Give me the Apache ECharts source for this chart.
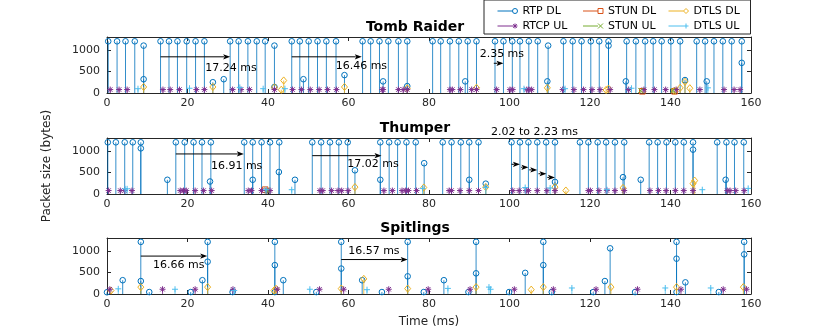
<!DOCTYPE html>
<html>
<head>
<meta charset="utf-8">
<script src="https://cdn.jsdelivr.net/npm/echarts@6/dist/echarts.min.js"></script>
<style>
  html, body { margin: 0; background: #fff; }
  #chart { width: 830px; height: 335px; }
</style>
</head>
<body>
<div id="chart"></div>
<script>
// 各类报文名称、颜色与标记
var seriesNames = ['RTP DL', 'STUN DL', 'DTLS DL', 'RTCP UL', 'STUN UL', 'DTLS UL'];
var seriesColors = ['#0072BD', '#D95319', '#EDB120', '#7E2F8E', '#77AC30', '#4DBEEE'];
var seriesMarks = ['o', 's', 'd', '*', 'x', '+'];

var xMin = 0, xMax = 160, xStep = 20;
var yMin = 0, yMax = 1300, yStep = 500;

// Tomb Raider  [时间(ms), 包大小(bytes)]
var tombRtpDl = [[0.3,1200],[2.5,1200],[4.6,1200],[6.9,1200],[9.1,1100],[9.1,320],
  [13.3,1200],[15.4,1200],[17.5,1200],[19.8,1200],[22.0,1200],[24.2,1200],[26.3,250],[29.0,320],
  [30.6,1200],[32.7,1200],[35.0,1200],[37.2,1200],[39.3,1200],[41.6,1100],[41.6,140],
  [45.9,1200],[47.9,1200],[48.8,320],[50.1,1200],[52.3,1200],[54.5,1200],[56.9,1200],[59.0,415],
  [63.5,1200],[65.5,1200],[67.7,1200],[68.6,270],[69.9,1200],[72.4,1200],[74.6,1200],[74.6,160],
  [80.9,1200],[82.9,1200],[85.2,1200],[87.4,1200],[89.0,270],[89.6,1200],[91.8,1200],
  [96.4,1200],[98.5,1200],[100.7,1200],[102.6,1200],[104.8,1200],[107.0,1200],[109.6,1100],[109.4,270],
  [113.4,1200],[115.7,1200],[117.9,1200],[120.2,1200],[122.3,1200],[124.6,1200],[124.6,1100],
  [128.9,270],[129.1,1200],[131.4,1200],[133.7,1200],[135.7,1200],[137.8,1200],[140.1,1200],[142.4,1200],[143.6,300],
  [146.5,1200],[148.6,1200],[149.0,270],[150.8,1200],[153.0,1200],[155.2,1200],[157.7,1200],[157.7,700]];
var tombStunDl = [[133.0,40],[141.0,40]];
var tombDtlsDl = [[9.1,140],[26.3,140],[41.6,130],[43.3,75],[43.9,290],[59.0,140],[74.6,110],[91.8,120],
  [109.4,120],[124.0,70],[124.6,100],[141.0,50],[142.4,120],[143.6,260],[144.8,110]];
var tombRtcpUl = [[0.8,80],[3.0,80],[5.0,80],[13.9,80],[15.7,80],[18.0,80],[22.2,80],[24.2,80],[31.2,80],
  [33.3,80],[35.4,80],[41.6,80],[46.1,80],[48.3,80],[50.5,80],[52.7,80],[54.8,80],[57.0,80],[68.4,80],
  [68.6,80],[72.4,80],[73.6,80],[74.6,80],[85.2,80],[85.8,80],[87.8,80],[90.6,80],[91.8,80],[96.8,80],
  [100.1,80],[100.8,80],[104.3,80],[104.8,80],[105.5,80],[113.2,80],[116.0,80],[118.4,80],[120.5,80],
  [122.5,80],[125.0,80],[129.6,80],[133.4,80],[136.0,80],[138.8,80],[141.4,80],[147.3,80],[153.3,80],
  [155.8,80],[157.3,80]];
var tombStunUl = [[132.6,60],[140.6,60]];
var tombDtlsUl = [[7.7,100],[20.5,110],[33.0,130],[38.8,100],[44.2,100],[103.6,100],[113.8,100],
  [130.3,110],[149.3,120]];
var tombArrows = [[13.3,30.6,840],[45.9,63.3,840],[96.1,98.5,690]];
var tombNotes = [[30.8,580,'17.24 ms'],[63.2,615,'16.46 ms'],[98.1,910,'2.35 ms']];

// Thumper
var thumpRtpDl = [[0.2,1200],[2.2,1200],[4.4,1200],[6.4,1200],[8.4,1200],[8.4,1060],
  [15.0,330],[17.1,1200],[19.3,1200],[21.5,1200],[23.6,1200],[25.8,1200],[25.6,290],
  [34.1,1200],[36.2,1200],[36.2,330],[38.4,1200],[40.5,1200],[42.8,1200],[42.7,510],[46.7,330],
  [51.0,1200],[53.2,1200],[55.4,1200],[57.6,1200],[59.8,1200],[61.6,550],
  [67.9,1200],[67.9,330],[70.1,1200],[72.2,1200],[74.4,1200],[76.7,1200],[78.8,715],
  [83.4,1200],[85.6,1200],[87.9,1200],[90.0,1200],[90.0,330],[92.3,1200],[94.1,240],
  [100.5,1200],[102.6,1200],[104.7,1200],[106.9,1200],[109.1,1200],[111.3,1200],[111.3,280],
  [117.5,1200],[119.6,1200],[121.9,1200],[124.0,1200],[126.2,1200],[128.5,1200],[128.2,390],[132.6,330],
  [134.7,1200],[136.8,1200],[139.0,1200],[141.2,1200],[143.3,1200],[145.6,1200],[145.6,1030],
  [151.6,1200],[153.9,1200],[153.7,330],[155.9,1200],[158.2,1200]];
var thumpStunDl = [[39.3,100]];
var thumpDtlsDl = [[61.6,160],[78.7,150],[94.1,160],[111.3,160],[114.0,80],[128.2,140],[145.6,240],[146.0,310]];
var thumpRtcpUl = [[0.4,80],[3.3,80],[4.4,80],[6.2,80],[18.2,80],[19.0,80],[19.7,80],[21.9,80],[24.0,80],
  [26.0,80],[35.1,80],[35.9,80],[38.4,80],[39.7,80],[40.5,80],[52.9,80],[53.6,80],[55.8,80],[57.4,80],
  [58.3,80],[59.9,80],[68.8,80],[70.9,80],[73.3,80],[74.2,80],[74.9,80],[76.9,80],[85.0,80],[85.6,80],
  [87.7,80],[90.0,80],[92.3,80],[100.8,80],[102.4,80],[104.1,80],[104.7,80],[106.9,80],[109.3,80],
  [111.3,80],[119.6,80],[120.1,80],[122.2,80],[124.2,80],[126.2,80],[128.5,80],[134.9,80],[137.0,80],
  [138.9,80],[141.2,80],[143.3,80],[145.6,80],[154.1,80],[154.8,80],[156.2,80],[158.3,80]];
var thumpStunUl = [[39.8,90]];
var thumpDtlsUl = [[4.5,120],[5.0,120],[39.5,100],[45.9,100],[78.4,130],[94.1,150],[103.9,150],
  [110.1,140],[124.2,100],[147.9,100],[159.3,130]];
var thumpArrows = [[17.1,34.0,930],[51.0,68.2,890],[100.5,102.6,690],[102.9,104.7,620],
  [104.9,106.9,560],[107.2,109.2,470],[109.4,111.3,385]];
var thumpNotes = [[32.2,650,'16.91 ms'],[66.1,700,'17.02 ms'],[106.2,1430,'2.02 to 2.23 ms']];

// Spitlings
var spitRtpDl = [[0.0,40],[3.9,320],[8.4,1210],[8.4,300],[10.5,45],[20.8,45],[23.7,320],[25.0,1210],
  [25.0,750],[31.2,45],[41.7,1210],[41.7,670],[41.7,45],[43.8,320],[52.0,45],[58.2,1210],[58.2,590],
  [63.4,320],[68.3,45],[74.7,1210],[74.7,410],[78.7,45],[83.7,320],[89.8,45],[91.7,1210],[91.7,480],
  [99.9,45],[103.9,490],[108.4,1210],[108.4,670],[110.5,45],[120.8,45],[123.7,300],[125.0,1060],
  [131.2,45],[141.5,1210],[141.5,820],[141.5,45],[143.7,270],[152.0,45],[158.3,1210],[158.3,920]];
var spitStunDl = [];
var spitDtlsDl = [[1.0,80],[8.4,160],[25.0,160],[41.5,80],[42.0,120],[58.2,125],[63.8,350],[74.7,125],
  [91.7,160],[105.4,100],[108.4,160],[125.2,160],[141.5,160],[158.1,160]];
var spitRtcpUl = [[0.7,110],[13.8,110],[21.9,110],[31.3,110],[42.3,110],[52.8,110],[58.8,110],[70.0,110],
  [79.8,110],[90.2,110],[101.2,110],[110.9,110],[121.5,110],[131.8,110],[142.6,110],[153.1,110],[158.9,110]];
var spitStunUl = [];
var spitDtlsUl = [[2.8,120],[16.9,110],[31.6,80],[50.4,110],[64.6,100],[84.7,130],[94.9,160],[95.3,110],
  [115.5,140],[138.7,140],[150.0,140]];
var spitArrows = [[8.4,24.9,880],[58.2,74.7,800]];
var spitNotes = [[17.8,660,'16.66 ms'],[66.3,985,'16.57 ms']];

var FONT = 'DejaVu Sans';
var AXIS_COLOR = '#262626';

var panels = [
  { title: 'Tomb Raider', top: 37, data: [tombRtpDl, tombStunDl, tombDtlsDl, tombRtcpUl, tombStunUl, tombDtlsUl], arrows: tombArrows, notes: tombNotes },
  { title: 'Thumper', top: 138, data: [thumpRtpDl, thumpStunDl, thumpDtlsDl, thumpRtcpUl, thumpStunUl, thumpDtlsUl], arrows: thumpArrows, notes: thumpNotes },
  { title: 'Spitlings', top: 238, data: [spitRtpDl, spitStunDl, spitDtlsDl, spitRtcpUl, spitStunUl, spitDtlsUl], arrows: spitArrows, notes: spitNotes }
];

// 标记形状
function markShapes(mark, cx, cy, color) {
  var st = { stroke: color, fill: 'none', lineWidth: 1 };
  var r = 2.8;
  function ln(x1, y1, x2, y2) {
    return { type: 'line', shape: { x1: cx + x1, y1: cy + y1, x2: cx + x2, y2: cy + y2 }, style: st };
  }
  if (mark === 'o') return [{ type: 'circle', shape: { cx: cx, cy: cy, r: r }, style: st }];
  if (mark === 's') return [{ type: 'rect', shape: { x: cx - r, y: cy - r, width: 2 * r, height: 2 * r }, style: st }];
  if (mark === 'd') return [{ type: 'polygon', shape: { points: [[cx, cy - 3.6], [cx + 3, cy], [cx, cy + 3.6], [cx - 3, cy]] }, style: st }];
  if (mark === '+') return [ln(-3, 0, 3, 0), ln(0, -3, 0, 3)];
  if (mark === 'x') return [ln(-2.5, -2.5, 2.5, 2.5), ln(-2.5, 2.5, 2.5, -2.5)];
  return [ln(-3, 0, 3, 0), ln(0, -3, 0, 3), ln(-2.2, -2.2, 2.2, 2.2), ln(-2.2, 2.2, 2.2, -2.2)];
}

function stemRenderer(mark, color) {
  return function (params, api) {
    var x = api.value(0), y = api.value(1);
    var base = api.coord([x, 0]);
    var tip = api.coord([x, y]);
    var children = [{
      type: 'line',
      shape: { x1: base[0], y1: base[1], x2: tip[0], y2: tip[1] },
      style: { stroke: color, lineWidth: 1, opacity: 0.8 }
    }];
    return { type: 'group', children: children.concat(markShapes(mark, tip[0], tip[1], color)) };
  };
}

function arrowRenderer(params, api) {
  var a = api.coord([api.value(0), api.value(2)]);
  var b = api.coord([api.value(1), api.value(2)]);
  var head = 7;
  return {
    type: 'group',
    children: [
      { type: 'line', shape: { x1: a[0], y1: a[1], x2: b[0] - head + 1, y2: b[1] }, style: { stroke: '#000', lineWidth: 1 } },
      { type: 'polygon', shape: { points: [[b[0], b[1]], [b[0] - head, b[1] - 2.6], [b[0] - head + 1.5, b[1]], [b[0] - head, b[1] + 2.6]] }, style: { fill: '#000' } }
    ]
  };
}

function noteRenderer(params, api) {
  var p = api.coord([api.value(0), api.value(1)]);
  return {
    type: 'text',
    x: p[0], y: p[1],
    style: { text: api.value(2), fill: '#000', font: '11px "' + FONT + '"', align: 'center', verticalAlign: 'middle' }
  };
}

var grids = [], xAxes = [], yAxes = [], series = [], titles = [];
panels.forEach(function (pn, i) {
  grids.push({ left: 107, right: 79, top: pn.top, height: 56 });
  titles.push({
    text: pn.title, left: 'center', top: pn.top - 17, padding: [0, 0, 0, 28],
    textStyle: { fontFamily: FONT, fontSize: 14, fontWeight: 'bold', color: '#000' }
  });
  var axLine = { show: true, onZero: false, lineStyle: { color: AXIS_COLOR, width: 1 } };
  var tick = { show: true, inside: true, length: 4, lineStyle: { color: AXIS_COLOR } };
  xAxes.push({
    gridIndex: i, type: 'value', position: 'bottom', min: xMin, max: xMax, interval: xStep,
    axisLine: axLine, axisTick: tick, splitLine: { show: false },
    axisLabel: { fontFamily: FONT, fontSize: 11, color: AXIS_COLOR, margin: 5 },
    name: i === 2 ? 'Time (ms)' : '', nameLocation: 'middle', nameGap: 22,
    nameTextStyle: { fontFamily: FONT, fontSize: 12, color: AXIS_COLOR }
  });
  xAxes.push({
    gridIndex: i, type: 'value', position: 'top', min: xMin, max: xMax, interval: xStep,
    axisLine: axLine, axisTick: tick, axisLabel: { show: false }, splitLine: { show: false }
  });
  yAxes.push({
    gridIndex: i, type: 'value', position: 'left', min: yMin, max: yMax, interval: yStep,
    axisLine: axLine, axisTick: tick, splitLine: { show: false },
    axisLabel: {
      fontFamily: FONT, fontSize: 11, color: AXIS_COLOR, margin: 7, showMaxLabel: false,
      formatter: function (v) { return String(v); }
    },
    name: i === 1 ? 'Packet size (bytes)' : '', nameLocation: 'middle', nameGap: 54,
    nameTextStyle: { fontFamily: FONT, fontSize: 12, color: AXIS_COLOR }
  });
  yAxes.push({
    gridIndex: i, type: 'value', position: 'right', min: yMin, max: yMax, interval: yStep,
    axisLine: axLine, axisTick: tick, axisLabel: { show: false }, splitLine: { show: false }
  });
  pn.data.forEach(function (d, k) {
    series.push({
      type: 'custom', name: seriesNames[k],
      xAxisIndex: 2 * i, yAxisIndex: 2 * i,
      itemStyle: { color: seriesColors[k] },
      renderItem: stemRenderer(seriesMarks[k], seriesColors[k]),
      encode: { x: 0, y: 1 },
      data: d
    });
  });
  series.push({
    type: 'custom', xAxisIndex: 2 * i, yAxisIndex: 2 * i, clip: false, silent: true,
    renderItem: arrowRenderer, data: pn.arrows
  });
  series.push({
    type: 'custom', xAxisIndex: 2 * i, yAxisIndex: 2 * i, clip: false, silent: true,
    renderItem: noteRenderer, encode: { x: 0, y: 1 }, dimensions: ['x', 'y', { name: 't', type: 'ordinal' }],
    data: pn.notes
  });
});

// 图例图标：线段 + 标记
var legendIcons = [
  'path://M0,2.5 L15,2.5 M20,2.5 A2.5,2.5 0 1 1 15,2.5 A2.5,2.5 0 1 1 20,2.5',
  'path://M0,2.5 L15,2.5 M15,0 L20,0 L20,5 L15,5 Z',
  'path://M0,2.5 L15,2.5 L17.5,0 L20,2.5 L17.5,5 L15,2.5',
  'path://M0,2.5 L20,2.5 M17.5,0 L17.5,5 M15.7,0.7 L19.3,4.3 M15.7,4.3 L19.3,0.7',
  'path://M0,2.5 L15,2.5 M15,0 L20,5 M15,5 L20,0',
  'path://M0,2.5 L20,2.5 M17.5,0 L17.5,5'
];

var myChart = echarts.init(document.getElementById('chart'));
var option = {
  animation: false,
  backgroundColor: '#fff',
  title: titles,
  legend: {
    left: 484, top: 0, width: 290,
    padding: [4, 0, 1, 11], itemGap: 1, itemWidth: 20, itemHeight: 5,
    borderColor: AXIS_COLOR, borderWidth: 1, backgroundColor: '#fff',
    selectedMode: false,
    formatter: '{n|{name}}',
    textStyle: {
      fontFamily: FONT, fontSize: 11, color: '#000', lineHeight: 14,
      rich: { n: { width: 57, height: 14, fontFamily: FONT, fontSize: 11, lineHeight: 14, color: '#000' } }
    },
    data: seriesNames.map(function (n, k) {
      return { name: n, icon: legendIcons[k], itemStyle: { color: 'none', borderColor: seriesColors[k], borderWidth: 1 } };
    })
  },
  grid: grids,
  xAxis: xAxes,
  yAxis: yAxes,
  series: series
};
myChart.setOption(option);
</script>
</body>
</html>
